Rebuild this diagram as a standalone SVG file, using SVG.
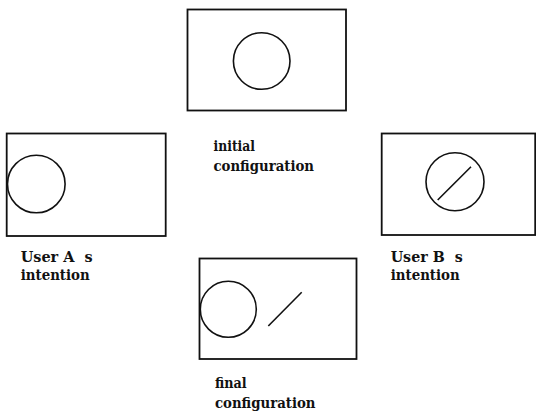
<svg xmlns="http://www.w3.org/2000/svg" width="536" height="414" viewBox="0 0 536 414">
<style>
.frame{fill:none;stroke:#111;stroke-width:1.8}
.shape{fill:none;stroke:#111;stroke-width:1.6}
.lbl{font-family:"DejaVu Serif","Liberation Serif",serif;font-weight:bold;font-size:14.5px;fill:#111;white-space:pre}
</style>
<rect width="536" height="414" fill="#fff"/>
<g id="initial">
<rect class="frame" x="187.5" y="9.5" width="158.5" height="101"/>
<circle class="shape" cx="261.7" cy="61" r="28.3"/>
<text class="lbl" x="213.5" y="151" textLength="41.5" lengthAdjust="spacingAndGlyphs">initial</text>
<text class="lbl" x="213.5" y="171" textLength="100.5" lengthAdjust="spacingAndGlyphs">configuration</text>
</g>
<g id="userA">
<rect class="frame" x="6.7" y="133.5" width="159" height="102.5"/>
<circle class="shape" cx="36.3" cy="184" r="28.8"/>
<text class="lbl" x="20.7" y="262" textLength="72" lengthAdjust="spacingAndGlyphs" xml:space="preserve">User A  s</text>
<text class="lbl" x="20.7" y="280" textLength="69" lengthAdjust="spacingAndGlyphs">intention</text>
</g>
<g id="userB">
<rect class="frame" x="381.7" y="133.5" width="153.5" height="101.5"/>
<circle class="shape" cx="455" cy="181.7" r="29"/>
<line class="shape" x1="437.7" y1="200" x2="471" y2="166.7"/>
<text class="lbl" x="390.7" y="262" textLength="72" lengthAdjust="spacingAndGlyphs" xml:space="preserve">User B  s</text>
<text class="lbl" x="390.7" y="280" textLength="69" lengthAdjust="spacingAndGlyphs">intention</text>
</g>
<g id="final">
<rect class="frame" x="199.5" y="258.5" width="157" height="100.5"/>
<circle class="shape" cx="228.3" cy="309.3" r="28"/>
<line class="shape" x1="268.3" y1="326" x2="301.7" y2="292.3"/>
<text class="lbl" x="215" y="388" textLength="31.7" lengthAdjust="spacingAndGlyphs">final</text>
<text class="lbl" x="215" y="408" textLength="100.5" lengthAdjust="spacingAndGlyphs">configuration</text>
</g>
<g id="connectors"/>
</svg>
